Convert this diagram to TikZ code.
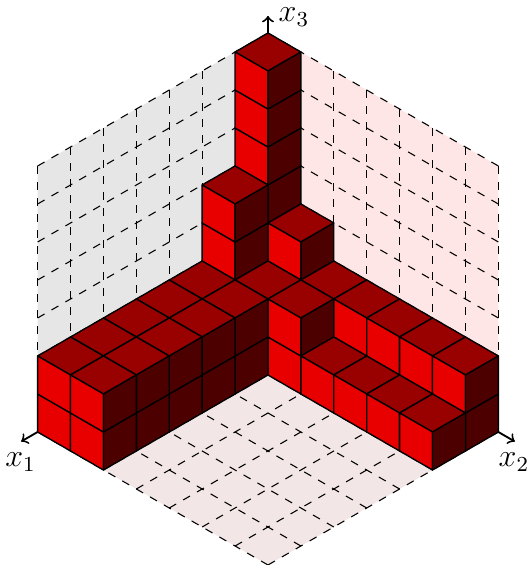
\documentclass[tikz,border=0pt]{standalone}
\usepackage{tikz}
\definecolor{cubetop}{RGB}{153,0,0}
\definecolor{cubeleft}{RGB}{232,0,0}
\definecolor{cuberight}{RGB}{77,0,0}
\definecolor{wallleft}{RGB}{230,230,230}
\definecolor{wallright}{RGB}{255,230,230}
\definecolor{wallfloor}{RGB}{242,230,230}
\newcommand{\unitcube}{
    \filldraw[face, fill=cubetop] (0,0,1) -- (1,0,1) -- (1,1,1) -- (0,1,1) -- cycle;
    \filldraw[face, fill=cubeleft] (1,0,0) -- (1,1,0) -- (1,1,1) -- (1,0,1) -- cycle;
    \filldraw[face, fill=cuberight] (0,1,0) -- (1,1,0) -- (1,1,1) -- (0,1,1) -- cycle;
}
\begin{document}
\begin{tikzpicture}[x={(-0.433cm,-0.25cm)}, y={(0.433cm,-0.25cm)}, z={(0cm,0.5cm)},
    face/.style={draw=black, line join=round, line width=0.5pt},
    grid/.style={dashed, line width=0.4pt},
    axis/.style={->, line width=0.7pt},
    lab/.style={inner sep=0pt, font=\large}]
\useasboundingbox (-3.526cm,-3.5cm) rectangle (3.408cm,3.934cm);
\fill[wallleft] (0,0,0) -- (7,0,0) -- (7,0,7) -- (0,0,7) -- cycle;
\fill[wallright] (0,0,0) -- (0,7,0) -- (0,7,7) -- (0,0,7) -- cycle;
\fill[wallfloor] (0,0,0) -- (7,0,0) -- (7,7,0) -- (0,7,0) -- cycle;
% dashed grid on the three walls
\foreach \n in {0,...,7} {
    \draw[grid] (\n,0,7) -- (\n,0,0);
    \draw[grid] (7,0,\n) -- (0,0,\n);
    \draw[grid] (0,\n,7) -- (0,\n,0);
    \draw[grid] (0,7,\n) -- (0,0,\n);
    \draw[grid] (\n,7,0) -- (\n,0,0);
    \draw[grid] (7,\n,0) -- (0,\n,0);
}
\coordinate (o) at (0,0,0);
\node[lab] (l1) at (-3.256cm,-2.145cm) {$x_1$};
\node[lab] (l2) at (3.237cm,-2.145cm) {$x_2$};
\node[lab] (l3) at (0.342cm,3.71cm) {$x_3$};
\coordinate (e1) at (7.5,0,0);
\coordinate (e2) at (0,7.5,0);
\coordinate (e3) at (0,0,7.45);
\draw[axis] (o) -- (e1);
\draw[axis] (o) -- (e2);
\draw[axis] (o) -- (e3);
% heights of the columns, row by row
\foreach \i/\row in {0/{7,3,2,2,2,2,2}, 1/{4,2,2,1,1,1,1}, 2/{2,2}, 3/{2,2}, 4/{2,2}, 5/{2,2}, 6/{2,2}} {
    \foreach \h [count=\c] in \row {
        \pgfmathtruncatemacro{\j}{\c-1}
        \foreach \k in {1,...,\h} {
            \begin{scope}[shift={(\i,\j,\k-1)}]
                \unitcube
            \end{scope}
        }
    }
}
\end{tikzpicture}
\end{document}
